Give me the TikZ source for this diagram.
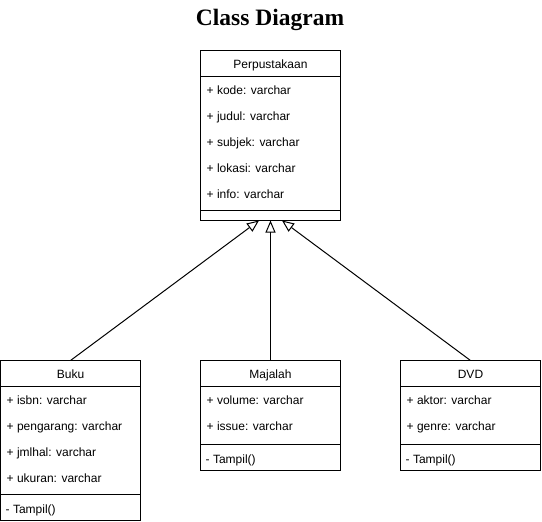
\documentclass[tikz,border=0pt]{standalone}
\usepackage{fontspec}
\setmainfont{Liberation Sans}
\newfontfamily\titlefont{Liberation Serif}
\usetikzlibrary{arrows.meta}
\tikzset{
  classbox/.style={draw=black, line width=1pt, fill=white, inner sep=0pt, outer sep=0pt, minimum width=140pt, anchor=north west},
  attr/.style={anchor=base west, inner sep=0pt, font=\fontsize{12}{14}\selectfont},
  hdr/.style={anchor=base, inner sep=0pt, font=\fontsize{12}{14}\selectfont},
  sepline/.style={draw=black, line width=1pt},
  gen/.style={draw=black, line width=1pt, -{Triangle[open, length=12pt, width=10pt]}}
}
\begin{document}
\begin{tikzpicture}[x=1pt, y=-1pt]
\useasboundingbox (0,0) rectangle (542,522);
% title
\node[anchor=base, inner sep=0pt, font=\titlefont\bfseries\fontsize{23.5}{26}\selectfont] (title) at (270,25) {Class Diagram};

% Perpustakaan
\node[classbox, minimum height=170pt] (perp) at (200.5,50.5) {};
\draw[sepline] ([yshift=-26pt]perp.north west) -- ([yshift=-26pt]perp.north east);
\draw[sepline] ([yshift=-160pt]perp.north west) -- ([yshift=-160pt]perp.north east);
\node[hdr] (perpt) at (270.5,68.5) {Perpustakaan};
\node[attr] (p1) at (206.5,94.5) {+ kode: varchar};
\node[attr] (p2) at (206.5,120.5) {+ judul: varchar};
\node[attr] (p3) at (206.5,146.5) {+ subjek: varchar};
\node[attr] (p4) at (206.5,172.5) {+ lokasi: varchar};
\node[attr] (p5) at (206.5,198.5) {+ info: varchar};

% Buku
\node[classbox, minimum height=160pt] (buku) at (0.5,360.5) {};
\draw[sepline] ([yshift=-26pt]buku.north west) -- ([yshift=-26pt]buku.north east);
\draw[sepline] ([yshift=-134pt]buku.north west) -- ([yshift=-134pt]buku.north east);
\node[hdr] (bukut) at (70.5,378.5) {Buku};
\node[attr] (b1) at (6.5,404.5) {+ isbn: varchar};
\node[attr] (b2) at (6.5,430.5) {+ pengarang: varchar};
\node[attr] (b3) at (6.5,456.5) {+ jmlhal: varchar};
\node[attr] (b4) at (6.5,482.5) {+ ukuran: varchar};
\node[attr] (b5) at (5.5,513) {- Tampil()};

% Majalah
\node[classbox, minimum height=110pt] (maj) at (200.5,360.5) {};
\draw[sepline] ([yshift=-26pt]maj.north west) -- ([yshift=-26pt]maj.north east);
\draw[sepline] ([yshift=-84pt]maj.north west) -- ([yshift=-84pt]maj.north east);
\node[hdr] (majt) at (270.5,378.5) {Majalah};
\node[attr] (m1) at (206.5,404.5) {+ volume: varchar};
\node[attr] (m2) at (206.5,430.5) {+ issue: varchar};
\node[attr] (m3) at (205.5,463) {- Tampil()};

% DVD
\node[classbox, minimum height=110pt] (dvd) at (400.5,360.5) {};
\draw[sepline] ([yshift=-26pt]dvd.north west) -- ([yshift=-26pt]dvd.north east);
\draw[sepline] ([yshift=-84pt]dvd.north west) -- ([yshift=-84pt]dvd.north east);
\node[hdr] (dvdt) at (470.5,378.5) {DVD};
\node[attr] (d1) at (406.5,404.5) {+ aktor: varchar};
\node[attr] (d2) at (406.5,430.5) {+ genre: varchar};
\node[attr] (d3) at (405.5,463) {- Tampil()};

% generalization connectors
\coordinate (pL) at (259,220.5);
\coordinate (pM) at (270.5,220.5);
\coordinate (pR) at (282,220.5);
\draw[gen] (buku.north) -- (pL);
\draw[gen] (maj.north) -- (pM);
\draw[gen] (dvd.north) -- (pR);
\end{tikzpicture}
\end{document}
